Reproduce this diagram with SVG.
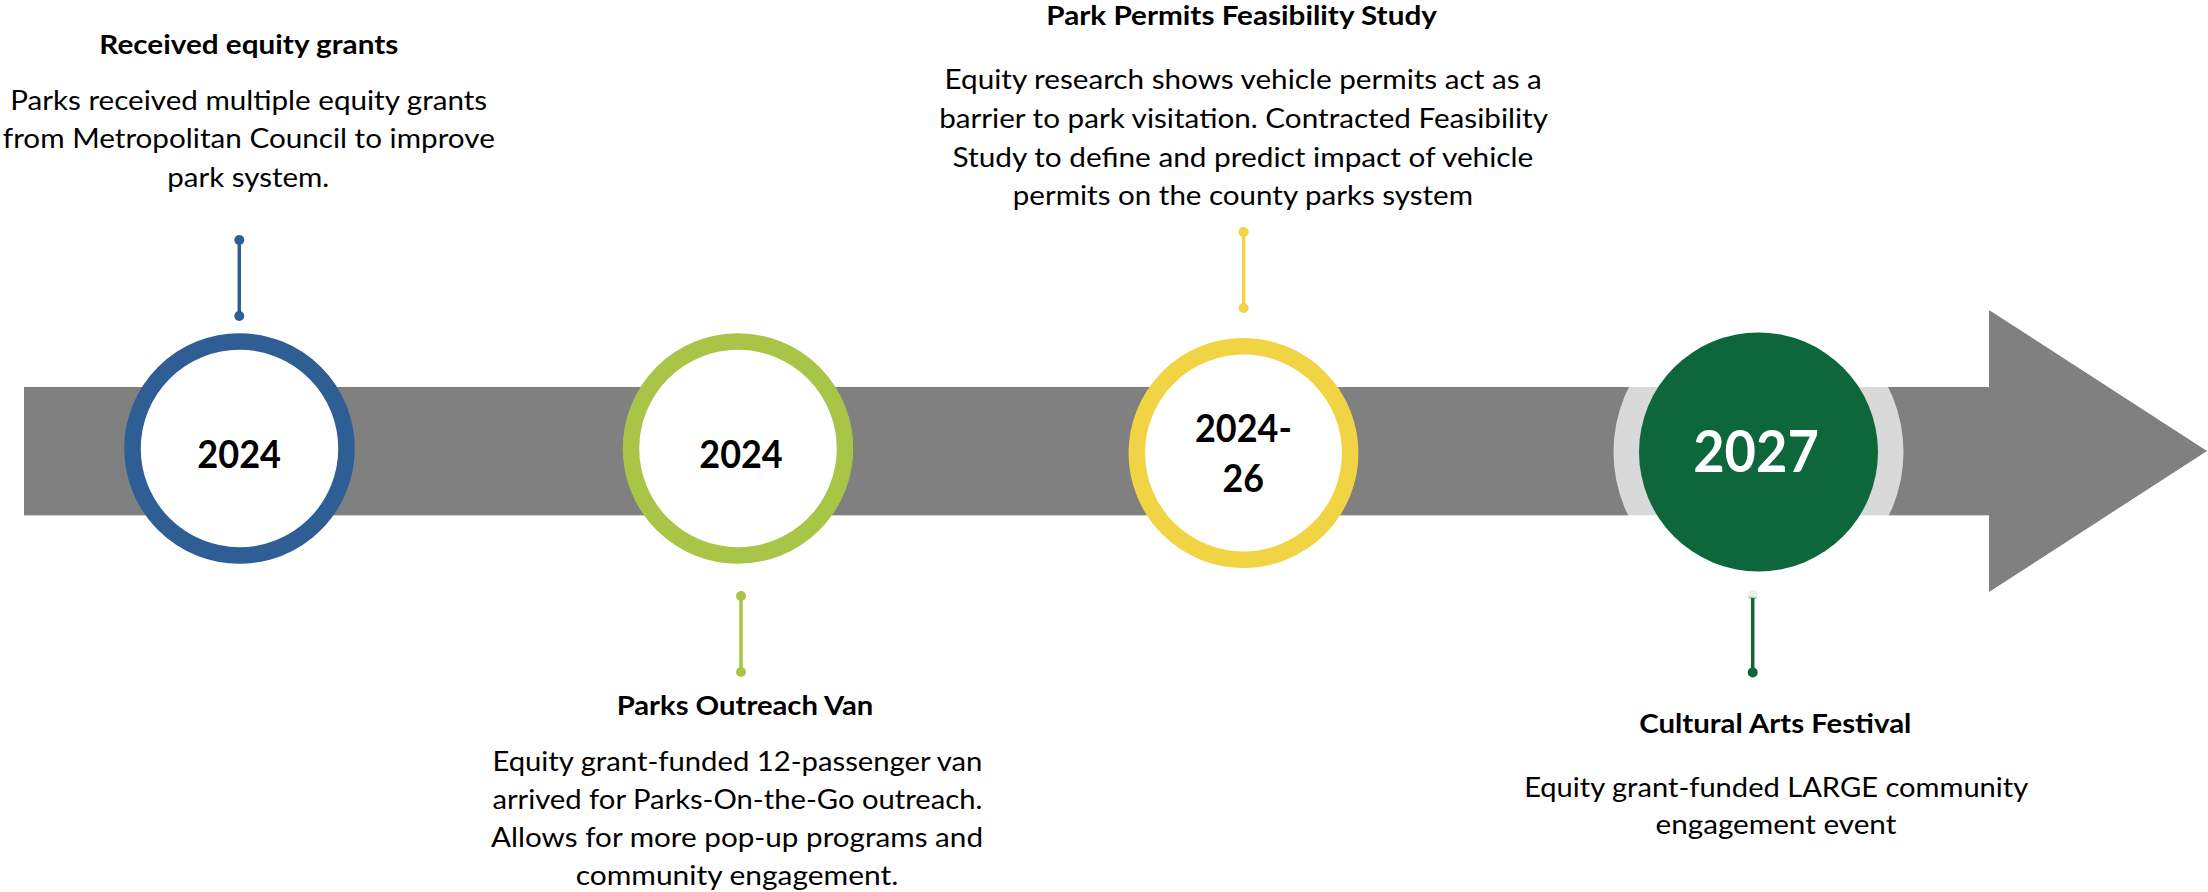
<svg xmlns="http://www.w3.org/2000/svg" width="2208" height="892" viewBox="0 0 2208 892">
<style>
.t{font-family:Lato,"Liberation Sans",sans-serif;font-weight:700;font-size:27px;fill:#000;text-anchor:middle}
.b{font-family:Lato,"Liberation Sans",sans-serif;font-weight:400;font-size:27px;fill:#000;text-anchor:middle}
.y{font-family:Lato,"Liberation Sans",sans-serif;font-weight:700;font-size:38px;fill:#000;text-anchor:middle}
.ring{fill:#fff;stroke-width:16.5}
.conn{stroke-width:3.5;fill:none}
</style>
<rect width="2208" height="892" fill="#fff"/>
<g id="timeline-arrow">
<polygon points="24,387 1989,387 1989,310 2207,451 1989,592 1989,515 24,515" fill="#808080"/>
<line x1="24" y1="515.5" x2="1989" y2="515.5" stroke="#d4d4d4" stroke-width="1"/>
</g>
<g id="connectors">
<g stroke="#2E5E94" fill="#2E5E94">
<line class="conn" x1="239.3" y1="240" x2="239.3" y2="316"/>
<circle cx="239.3" cy="240" r="5" stroke="none"/>
<circle cx="239.3" cy="316" r="5" stroke="none"/>
</g>
<g stroke="#A8C548" fill="#A8C548">
<line class="conn" x1="741" y1="596" x2="741" y2="672"/>
<circle cx="741" cy="596" r="5" stroke="none"/>
<circle cx="741" cy="672" r="5" stroke="none"/>
</g>
<g stroke="#F0D443" fill="#F0D443">
<line class="conn" x1="1243.6" y1="232" x2="1243.6" y2="308"/>
<circle cx="1243.6" cy="232" r="5" stroke="none"/>
<circle cx="1243.6" cy="308" r="5" stroke="none"/>
</g>
<g stroke="#0E663B" fill="#0E663B">
<circle cx="1752.7" cy="595" r="5" fill="#B3CFBE" stroke="none"/>
<line class="conn" x1="1752.7" y1="598" x2="1752.7" y2="672"/>
<circle cx="1752.7" cy="672.4" r="5" stroke="none"/>
</g>
</g>
<g id="node-2024-grants">
<circle class="ring" cx="239.5" cy="448.5" r="107" stroke="#2E5E94"/>
<text class="y" x="239.2" y="467.7" textLength="83.7" lengthAdjust="spacingAndGlyphs">2024</text>
<text class="t" x="248.8" y="54.3" textLength="299" lengthAdjust="spacingAndGlyphs">Received equity grants</text>
<text class="b" x="248.7" y="110" textLength="477" lengthAdjust="spacingAndGlyphs">Parks received multiple equity grants</text>
<text class="b" x="248.8" y="148.3" textLength="492" lengthAdjust="spacingAndGlyphs">from Metropolitan Council to improve</text>
<text class="b" x="248.3" y="186.7" textLength="162" lengthAdjust="spacingAndGlyphs">park system.</text>
</g>
<g id="node-2024-van">
<circle class="ring" cx="738" cy="448.5" r="107" stroke="#A8C548"/>
<text class="y" x="741" y="468" textLength="83.4" lengthAdjust="spacingAndGlyphs">2024</text>
<text class="t" x="745" y="715.3" textLength="256.7" lengthAdjust="spacingAndGlyphs">Parks Outreach Van</text>
<text class="b" x="737.4" y="770.7" textLength="490" lengthAdjust="spacingAndGlyphs">Equity grant-funded 12-passenger van</text>
<text class="b" x="737.4" y="808.7" textLength="490" lengthAdjust="spacingAndGlyphs">arrived for Parks-On-the-Go outreach.</text>
<text class="b" x="737" y="847" textLength="492" lengthAdjust="spacingAndGlyphs">Allows for more pop-up programs and</text>
<text class="b" x="737" y="884.7" textLength="322.6" lengthAdjust="spacingAndGlyphs">community engagement.</text>
</g>
<g id="node-2024-26-permits">
<circle class="ring" cx="1243.5" cy="453" r="106.7" stroke="#F0D443"/>
<text class="y" x="1243.4" y="442" textLength="96.8" lengthAdjust="spacingAndGlyphs">2024-</text>
<text class="y" x="1243.3" y="492.4" textLength="41.4" lengthAdjust="spacingAndGlyphs">26</text>
<text class="t" x="1241.6" y="24.5" textLength="390.6" lengthAdjust="spacingAndGlyphs">Park Permits Feasibility Study</text>
<text class="b" x="1243.2" y="89.3" textLength="597.3" lengthAdjust="spacingAndGlyphs">Equity research shows vehicle permits act as a</text>
<text class="b" x="1243.6" y="128.1" textLength="608.9" lengthAdjust="spacingAndGlyphs">barrier to park visitation. Contracted Feasibility</text>
<text class="b" x="1242.9" y="166.5" textLength="580.8" lengthAdjust="spacingAndGlyphs">Study to define and predict impact of vehicle</text>
<text class="b" x="1242.9" y="205.4" textLength="460.2" lengthAdjust="spacingAndGlyphs">permits on the county parks system</text>
</g>
<g id="node-2027-festival">
<circle cx="1758.5" cy="452" r="145" fill="#fff" fill-opacity="0.7"/>
<circle cx="1758.5" cy="452" r="119.5" fill="#0E663B"/>
<text class="y" x="1756" y="472.4" style="font-size:57px;fill:#fff" textLength="125.7" lengthAdjust="spacingAndGlyphs">2027</text>
<text class="t" x="1775.3" y="732.8" textLength="272.2" lengthAdjust="spacingAndGlyphs">Cultural Arts Festival</text>
<text class="b" x="1776.2" y="796.9" textLength="504.1" lengthAdjust="spacingAndGlyphs">Equity grant-funded LARGE community</text>
<text class="b" x="1775.9" y="833.6" textLength="240.8" lengthAdjust="spacingAndGlyphs">engagement event</text>
</g>
</svg>
